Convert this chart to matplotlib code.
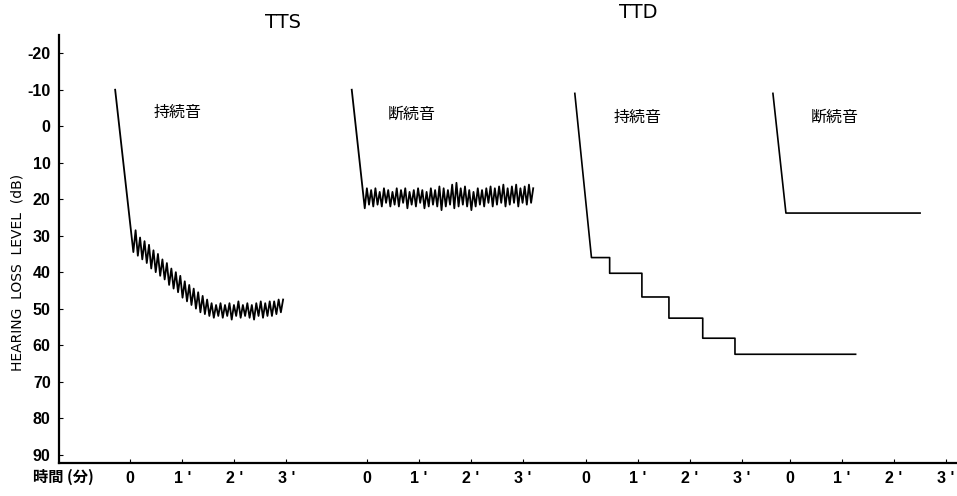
import numpy as np
import matplotlib
matplotlib.use('Agg')
import matplotlib.pyplot as plt

plt.rcParams['font.family'] = ['Liberation Sans Narrow', 'Liberation Sans', 'DejaVu Sans']
jp = ['Noto Sans CJK JP', 'DejaVu Sans']

# ---- data (minutes from each panel's zero, dB hearing loss) ----
panel_zero = [1.37, 5.92, 10.13, 14.06]
minute_ticks = [0, 1, 2, 3]
minute_labels = ["0", "1 '", "2 '", "3 '"]

# TTS continuous tone: initial descent, then tracking zigzag
p1_start = (-0.29, -10)
p1_span = (0.06, 2.94)
p1_trough = [34.5, 35.5, 36.5, 37.5, 39, 40, 41, 42, 43.5, 44.5, 45.5, 47, 48, 49, 50, 51,
             51.5, 52, 52.5, 52, 52.5, 52, 53, 52, 52.5, 52, 52.5, 53, 52, 52.5, 52, 52, 51.5, 51]
p1_peak = [28.5, 30.5, 31.5, 32.5, 34, 35, 36.5, 37.5, 39, 40, 41, 42.5, 43.5, 44.5, 45.5, 46.5,
           47.5, 48.5, 49, 48.5, 49, 48.5, 49, 48, 49, 48.5, 49, 48.5, 48, 48.5, 48, 48, 47.5, 47.5]

# TTS intermittent tone
p2_start = (-0.29, -10)
p2_span = (-0.04, 3.2)
p2_trough = [22.5, 21.5, 22, 21.5, 22, 21, 22, 21.5, 22, 21, 22.5, 21.5, 22, 21, 22.5, 22, 21.5, 22, 23, 22,
             21.5, 22.5, 22, 21.5, 22, 23, 22, 21.5, 22, 21, 22, 21.5, 21, 22, 21.5, 21, 22, 21, 21.5, 21]
p2_peak = [17, 17.5, 17, 18, 17, 17.5, 18, 17, 17.5, 17, 18, 17.5, 17, 17.5, 18, 17, 17.5, 16.5, 17, 17.5,
           16, 15.5, 17, 16.5, 17.5, 18, 17, 17.5, 17, 16.5, 17, 16.5, 16, 17, 16.5, 16, 17, 16.5, 16, 17]

# TTD continuous tone (stepwise)
p3_t = [-0.21, 0.11, 0.46, 0.46, 1.08, 1.08, 1.6, 1.6, 2.25, 2.25, 2.87, 2.87, 5.19]
p3_db = [-9, 36, 36, 40.3, 40.3, 46.8, 46.8, 52.6, 52.6, 58.1, 58.1, 62.5, 62.5]

# TTD intermittent tone
p4_t = [-0.33, -0.08, 2.5]
p4_db = [-9, 23.8, 23.8]

y_ticks = list(range(-20, 100, 10))


def zigzag(start, span, trough, peak):
    vals = np.empty(len(trough) + len(peak))
    vals[0::2] = trough
    vals[1::2] = peak
    t = np.linspace(span[0], span[1], len(vals))
    return np.r_[start[0], t], np.r_[start[1], vals]


fig = plt.figure(figsize=(9.57, 4.96), dpi=100)
ax = fig.add_axes([59 / 957, 33 / 496, 898 / 957, 428 / 496])

t1, d1 = zigzag(p1_start, p1_span, p1_trough, p1_peak)
t2, d2 = zigzag(p2_start, p2_span, p2_trough, p2_peak)
ax.plot(t1 + panel_zero[0], d1, color='black', lw=1.3)
ax.plot(t2 + panel_zero[1], d2, color='black', lw=1.3)
ax.plot(np.array(p3_t) + panel_zero[2], p3_db, color='black', lw=1.2)
ax.plot(np.array(p4_t) + panel_zero[3], p4_db, color='black', lw=1.2)

ax.set_xlim(0, 17.27)
ax.set_ylim(92.3, -25)

xt = [z + m for z in panel_zero for m in minute_ticks]
ax.set_xticks(xt)
ax.set_xticklabels(minute_labels * len(panel_zero), fontsize=11.5, fontweight='bold')
ax.set_yticks(y_ticks)
ax.set_yticklabels([str(v) for v in y_ticks], fontsize=11.5, fontweight='bold')
ax.tick_params(axis='both', direction='in', length=3, width=0.8)
ax.tick_params(axis='x', pad=6)
ax.tick_params(axis='y', pad=6)

for s in ['top', 'right']:
    ax.spines[s].set_visible(False)
ax.spines['left'].set_linewidth(1.6)
ax.spines['bottom'].set_linewidth(1.6)

# panel captions
ax.text(2.29, -3.8, '持続音', family=jp, fontsize=11.5, ha='center', va='center')
ax.text(6.79, -3.3, '断続音', family=jp, fontsize=11.5, ha='center', va='center')
ax.text(11.13, -2.5, '持続音', family=jp, fontsize=11.5, ha='center', va='center')
ax.text(14.92, -2.5, '断続音', family=jp, fontsize=11.5, ha='center', va='center')

fig.text(283 / 957, 1 - 22 / 496, 'TTS', fontsize=14, ha='center', va='center', family='DejaVu Sans')
fig.text(638 / 957, 1 - 12 / 496, 'TTD', fontsize=14, ha='center', va='center', family='DejaVu Sans')

fig.text(18 / 957, 1 - 272 / 496, 'HEARING  LOSS  LEVEL  (dB)', rotation=90, fontsize=10,
         ha='center', va='center', family='DejaVu Sans')
fig.text(63 / 957, 1 - 477 / 496, '時間 (分)', family=jp, fontsize=11, fontweight='bold',
         ha='center', va='center')

fig.savefig('out.png', dpi=100)
